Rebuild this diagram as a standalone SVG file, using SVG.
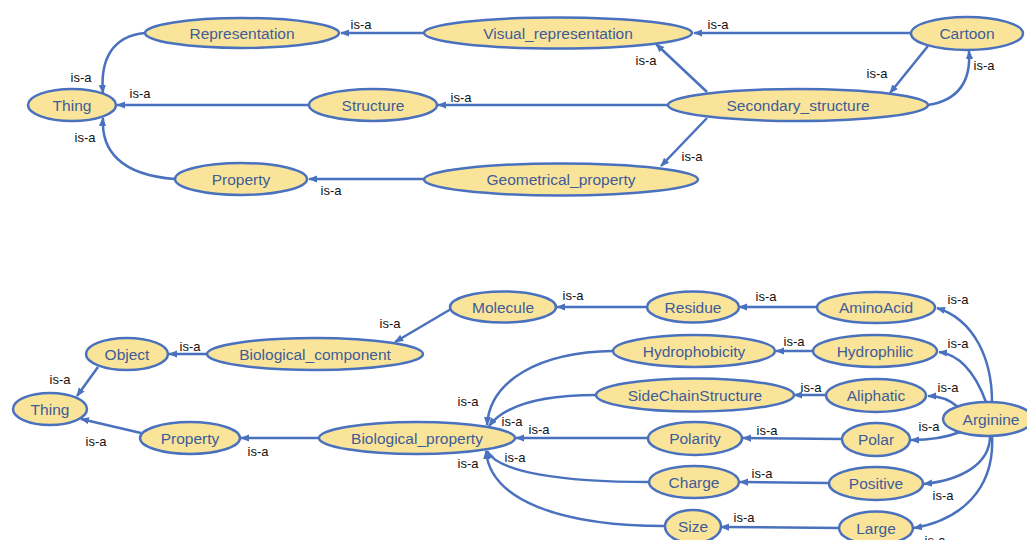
<svg xmlns="http://www.w3.org/2000/svg" width="1027" height="540" viewBox="0 0 1027 540">
<style>
.n ellipse{fill:#FAE499;stroke:#4A71BE;stroke-width:2.5}
.n text{font-family:"Liberation Sans",Arial,sans-serif;font-size:15.5px;fill:#3E5C98;text-anchor:middle}
.e path{fill:none;stroke:#4A71BE;stroke-width:2.5;marker-end:url(#ah)}
.l text{font-family:"Liberation Sans",Arial,sans-serif;font-size:13px;fill:#111;text-anchor:middle}
</style>
<defs>
<marker id="ah" viewBox="0 0 10 10" refX="9" refY="5" markerWidth="9" markerHeight="9" markerUnits="userSpaceOnUse" orient="auto"><path d="M0,1 L10,5 L0,9 z" fill="#4A71BE"/></marker>
</defs>
<rect width="1027" height="540" fill="#fff"/>
<g id="connectors" class="e">
<!-- top -->
<path d="M424,33 L341,33"/>
<path d="M911,33 L694,33"/>
<path d="M145,33 C112,36 100,60 103,93"/>
<path d="M309,105 L117,105"/>
<path d="M175,179 C120,175 101,150 103,118"/>
<path d="M424,179 L309,179"/>
<path d="M668,105 L438,105"/>
<path d="M707,92 L656,44"/>
<path d="M707,118 L661,166"/>
<path d="M928,46 L890,93"/>
<path d="M928,105 C960,100 971,80 969,51"/>
<!-- bottom -->
<path d="M98,367 L77,396"/>
<path d="M141,433 L81,419"/>
<path d="M207,354 L169,354"/>
<path d="M451,309 L395,342"/>
<path d="M647,307 L557,307"/>
<path d="M817,307 L739,307"/>
<path d="M319,438 L241,438"/>
<path d="M613,351 C540,352 490,380 487,425"/>
<path d="M596,395 C540,395 505,405 489,426"/>
<path d="M648,438 L516,438"/>
<path d="M649,482 C560,482 498,472 487,451"/>
<path d="M665,526 C560,526 490,500 486,451"/>
<path d="M813,351 L776,351"/>
<path d="M826,395 L794,395"/>
<path d="M842,439 L743,438"/>
<path d="M828,483 L740,482"/>
<path d="M839,528 L721,527"/>
<path d="M992,402 C992,360 975,320 937,308"/>
<path d="M986,402 C976,375 962,355 939,352"/>
<path d="M958,407 C950,400 940,396 928,396"/>
<path d="M960,432 C945,438 925,440 911,440"/>
<path d="M990,436 C990,465 960,480 924,484"/>
<path d="M992,436 C995,490 960,520 914,528"/>
</g>
<g id="labels" class="l">
<text x="361" y="29">is-a</text>
<text x="718" y="29">is-a</text>
<text x="81" y="82">is-a</text>
<text x="140" y="98">is-a</text>
<text x="85" y="142">is-a</text>
<text x="331" y="195">is-a</text>
<text x="461" y="102">is-a</text>
<text x="646" y="65">is-a</text>
<text x="692" y="161">is-a</text>
<text x="877" y="78">is-a</text>
<text x="984" y="70">is-a</text>
<text x="60" y="384">is-a</text>
<text x="190" y="351">is-a</text>
<text x="96" y="446">is-a</text>
<text x="258" y="456">is-a</text>
<text x="390" y="328">is-a</text>
<text x="573" y="300">is-a</text>
<text x="766" y="301">is-a</text>
<text x="958" y="304">is-a</text>
<text x="794" y="346">is-a</text>
<text x="958" y="348">is-a</text>
<text x="811" y="392">is-a</text>
<text x="948" y="392">is-a</text>
<text x="929" y="431">is-a</text>
<text x="767" y="435">is-a</text>
<text x="468" y="406">is-a</text>
<text x="512" y="426">is-a</text>
<text x="539" y="434">is-a</text>
<text x="515" y="462">is-a</text>
<text x="468" y="468">is-a</text>
<text x="762" y="478">is-a</text>
<text x="943" y="500">is-a</text>
<text x="744" y="522">is-a</text>
<text x="935" y="545">is-a</text>
</g>
<g id="n-representation" class="n"><ellipse cx="242" cy="33" rx="97" ry="15"/><text x="242" y="38.5">Representation</text></g>
<g id="n-visual-representation" class="n"><ellipse cx="558" cy="33" rx="134" ry="15.5"/><text x="558" y="38.5">Visual_representation</text></g>
<g id="n-cartoon" class="n"><ellipse cx="967" cy="33.5" rx="56" ry="16.5"/><text x="967" y="39">Cartoon</text></g>
<g id="n-thing-top" class="n"><ellipse cx="72" cy="105" rx="44" ry="16"/><text x="72" y="110.5">Thing</text></g>
<g id="n-structure" class="n"><ellipse cx="373" cy="105" rx="64" ry="16"/><text x="373" y="110.5">Structure</text></g>
<g id="n-secondary-structure" class="n"><ellipse cx="798" cy="105" rx="130" ry="16"/><text x="798" y="110.5">Secondary_structure</text></g>
<g id="n-property-top" class="n"><ellipse cx="241" cy="179" rx="66" ry="16"/><text x="241" y="184.5">Property</text></g>
<g id="n-geometrical-property" class="n"><ellipse cx="561" cy="179.5" rx="137" ry="16"/><text x="561" y="185">Geometrical_property</text></g>
<g id="n-object" class="n"><ellipse cx="127" cy="354" rx="41" ry="16"/><text x="127" y="359.5">Object</text></g>
<g id="n-thing-bottom" class="n"><ellipse cx="50" cy="409" rx="37" ry="16"/><text x="50" y="414.5">Thing</text></g>
<g id="n-property-bottom" class="n"><ellipse cx="190" cy="438" rx="50" ry="16"/><text x="190" y="443.5">Property</text></g>
<g id="n-biological-component" class="n"><ellipse cx="315" cy="354" rx="108" ry="16"/><text x="315" y="359.5">Biological_component</text></g>
<g id="n-molecule" class="n"><ellipse cx="503" cy="307" rx="53" ry="15.5"/><text x="503" y="312.5">Molecule</text></g>
<g id="n-residue" class="n"><ellipse cx="693" cy="307" rx="46" ry="15.5"/><text x="693" y="312.5">Residue</text></g>
<g id="n-aminoacid" class="n"><ellipse cx="876" cy="307.5" rx="59" ry="15.5"/><text x="876" y="313">AminoAcid</text></g>
<g id="n-hydrophobicity" class="n"><ellipse cx="694" cy="351" rx="81" ry="16"/><text x="694" y="356.5">Hydrophobicity</text></g>
<g id="n-hydrophilic" class="n"><ellipse cx="875" cy="351" rx="62" ry="16"/><text x="875" y="356.5">Hydrophilic</text></g>
<g id="n-sidechainstructure" class="n"><ellipse cx="695" cy="395" rx="99" ry="16.5"/><text x="695" y="400.5">SideChainStructure</text></g>
<g id="n-aliphatic" class="n"><ellipse cx="876" cy="395.5" rx="50" ry="16.5"/><text x="876" y="401">Aliphatic</text></g>
<g id="n-arginine" class="n"><ellipse cx="988" cy="419" rx="45" ry="17"/><text x="991" y="424.5">Arginine</text></g>
<g id="n-biological-property" class="n"><ellipse cx="417" cy="438" rx="98" ry="16"/><text x="417" y="443.5">Biological_property</text></g>
<g id="n-polarity" class="n"><ellipse cx="695" cy="438.5" rx="47" ry="16.5"/><text x="695" y="444">Polarity</text></g>
<g id="n-polar" class="n"><ellipse cx="876" cy="439.5" rx="34" ry="16.5"/><text x="876" y="445">Polar</text></g>
<g id="n-charge" class="n"><ellipse cx="694" cy="482" rx="45" ry="16"/><text x="694" y="487.5">Charge</text></g>
<g id="n-positive" class="n"><ellipse cx="876" cy="483.5" rx="47" ry="16.5"/><text x="876" y="489">Positive</text></g>
<g id="n-size" class="n"><ellipse cx="693" cy="526.5" rx="28" ry="16.5"/><text x="693" y="532">Size</text></g>
<g id="n-large" class="n"><ellipse cx="876" cy="528" rx="37" ry="16.5"/><text x="876" y="533.5">Large</text></g>
</svg>
